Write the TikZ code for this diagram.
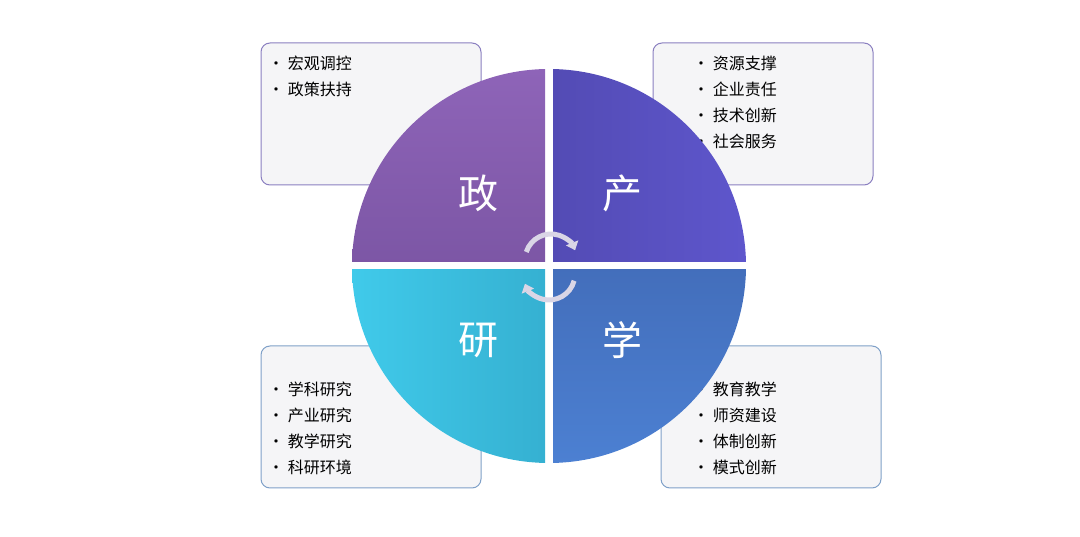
\documentclass[tikz,border=0pt]{standalone}
\usepackage{fontspec}
\newfontfamily\cjk{Noto Sans CJK SC}
\usetikzlibrary{arrows.meta}
\definecolor{boxfill}{HTML}{F5F5F7}
\definecolor{topedge}{HTML}{8A7FC0}
\definecolor{botedge}{HTML}{7FA0C8}
\definecolor{arrc}{HTML}{DAD6E6}
\tikzset{
  infobox/.style={draw, fill=boxfill, rounded corners=9pt, line width=1pt},
  item/.style={anchor=west, inner sep=0pt, font=\cjk\fontsize{16}{20}\selectfont, text=black},
  big/.style={font=\cjk\fontsize{40}{44}\selectfont, text=white},
  cyc/.style={draw=arrc, line width=5pt, -{Triangle[length=8pt,width=13pt]}}
}
\begin{document}
\begin{tikzpicture}[x=1pt,y=1pt]
\useasboundingbox (0,0) rectangle (1080,536);
% boxes
\node[infobox, draw=topedge, minimum width=220pt, minimum height=142pt] (b1) at (371,422) {};
\node[infobox, draw=topedge, minimum width=220pt, minimum height=142pt] (b2) at (763,422) {};
\node[infobox, draw=botedge, minimum width=220pt, minimum height=142pt] (b3) at (371,119) {};
\node[infobox, draw=botedge, minimum width=220pt, minimum height=142pt] (b4) at (771,119) {};
% texts
\node[item] (t1) at (268,473) {• 宏观调控};
\node[item] (t2) at (268,447) {• 政策扶持};
\node[item] (t3) at (693,473) {• 资源支撑};
\node[item] (t4) at (693,447) {• 企业责任};
\node[item] (t5) at (693,421) {• 技术创新};
\node[item] (t6) at (693,395) {• 社会服务};
\node[item] (t7) at (268,147) {• 学科研究};
\node[item] (t8) at (268,121) {• 产业研究};
\node[item] (t9) at (268,95) {• 教学研究};
\node[item] (t10) at (268,69) {• 科研环境};
\node[item] (t11) at (693,147) {• 教育教学};
\node[item] (t12) at (693,121) {• 师资建设};
\node[item] (t13) at (693,95) {• 体制创新};
\node[item] (t14) at (693,69) {• 模式创新};
% quadrants
\coordinate (c) at (549,270);
\begin{scope}
\clip (0,274) rectangle (545,536);
\shade[top color={rgb,255:red,142;green,100;blue,184}, bottom color={rgb,255:red,106;green,72;blue,146}] (c) circle (197);
\end{scope}
\begin{scope}
\clip (553,274) rectangle (1080,536);
\shade[left color={rgb,255:red,72;green,64;blue,156}, right color={rgb,255:red,94;green,86;blue,204}] (c) circle (197);
\end{scope}
\begin{scope}
\clip (0,0) rectangle (545,266);
\shade[left color={rgb,255:red,64;green,202;blue,234}, right color={rgb,255:red,42;green,150;blue,184}] (c) circle (197);
\end{scope}
\begin{scope}
\clip (553,0) rectangle (1080,266);
\shade[top color={rgb,255:red,58;green,92;blue,164}, bottom color={rgb,255:red,76;green,128;blue,210}] (c) circle (197);
\end{scope}
% labels
\node[big] (z) at (478,343) {政};
\node[big] (p) at (622,343) {产};
\node[big] (y) at (478,196) {研};
\node[big] (x) at (622,196) {学};
% cycle arrows
\coordinate (ca) at (551,276);
\coordinate (cb) at (549,262);
\draw[cyc] ([shift={(162:26)}]ca) arc (162:22:26);
\draw[cyc] ([shift={(-15:26)}]cb) arc (-15:-158:26);
\end{tikzpicture}
\end{document}
